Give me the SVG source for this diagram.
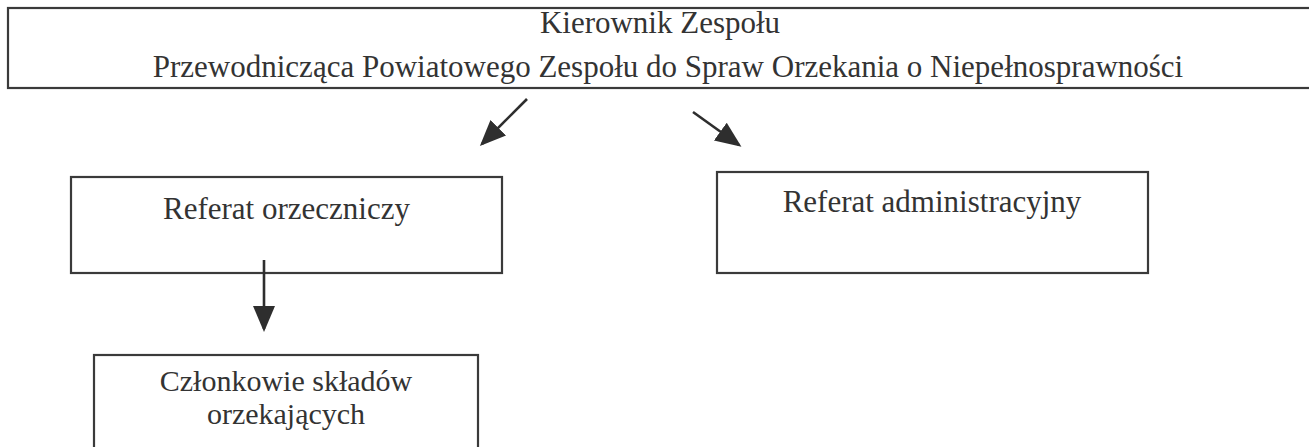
<svg xmlns="http://www.w3.org/2000/svg" width="1309" height="447" viewBox="0 0 1309 447">
<defs>
<style>
.box{fill:#fff;stroke:#3a3a3a;stroke-width:2.2}
.t{font-family:"Liberation Serif","Times New Roman",serif;font-size:31px;fill:#333;text-anchor:middle}
.s{font-size:30px}
.c{stroke:#2e2e2e;stroke-width:2.6;fill:none}
</style>
<marker id="ah" markerUnits="userSpaceOnUse" markerWidth="28" markerHeight="26" refX="23" refY="13" orient="auto" viewBox="0 0 28 26">
<path d="M0,2 L26,13 L0,24 Z" fill="#2e2e2e"/>
</marker>
</defs>
<rect width="1309" height="447" fill="#fff"/>
<g id="kierownik">
<rect class="box" x="8" y="8" width="1320" height="80"/>
<text class="t" x="660" y="33">Kierownik Zespołu</text>
<text class="t" x="668" y="77">Przewodnicząca Powiatowego Zespołu do Spraw Orzekania o Niepełnosprawności</text>
</g>
<g id="orzeczniczy">
<rect class="box" x="71" y="177" width="431" height="96"/>
<text class="t" x="286.5" y="219">Referat orzeczniczy</text>
</g>
<g id="administracyjny">
<rect class="box" x="717" y="172" width="431" height="101"/>
<text class="t" x="932" y="212">Referat administracyjny</text>
</g>
<g id="czlonkowie">
<rect class="box" x="94" y="355" width="384" height="110"/>
<text class="t s" x="286" y="391">Członkowie składów</text>
<text class="t s" x="286" y="424">orzekających</text>
</g>
<g id="connectors">
<line class="c" x1="527" y1="99" x2="482" y2="144" marker-end="url(#ah)"/>
<line class="c" x1="693" y1="112" x2="739" y2="145" marker-end="url(#ah)"/>
<line class="c" x1="264" y1="260" x2="264" y2="329" marker-end="url(#ah)"/>
</g>
</svg>
